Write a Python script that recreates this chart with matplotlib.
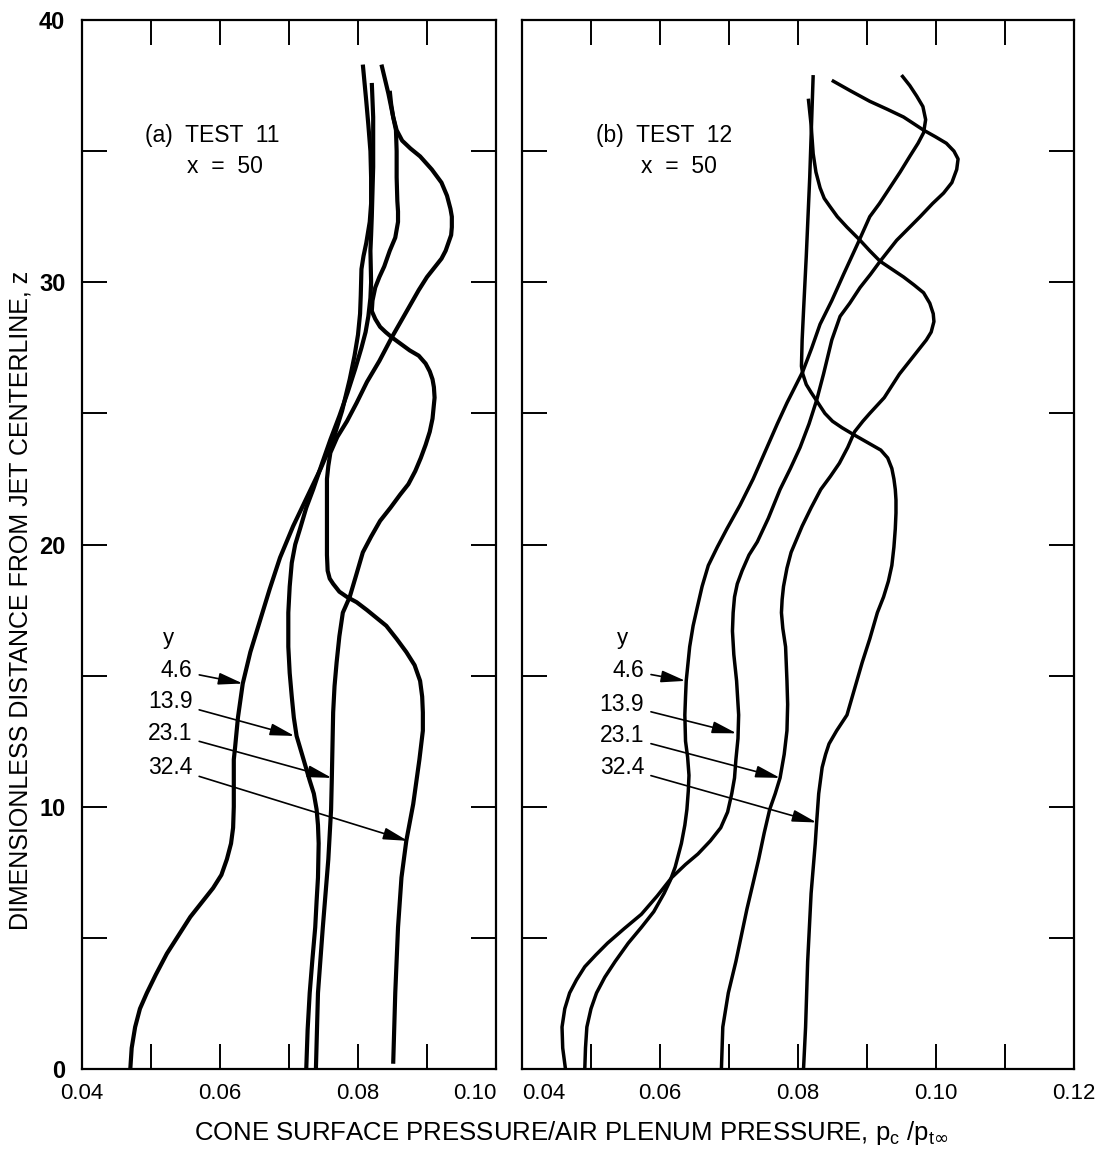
import matplotlib
matplotlib.use("Agg")
import matplotlib.pyplot as plt
from matplotlib.ticker import MultipleLocator, FixedLocator

plt.rcParams['font.family'] = ['Liberation Sans', 'DejaVu Sans']

# ---- (a) TEST 11, x = 50 : cone pressure p_c/p_t vs z, one curve per y ----
a46_p = [0.0470, 0.0472, 0.0477, 0.0484, 0.0494, 0.0507, 0.0523, 0.0540, 0.0557, 0.0575,
         0.0590, 0.0602, 0.0610, 0.0616, 0.0619, 0.0620, 0.0620, 0.0620, 0.0622, 0.0626,
         0.0633, 0.0644, 0.0658, 0.0672, 0.0687, 0.0706, 0.0726, 0.0746, 0.0764, 0.0777,
         0.0788, 0.0795, 0.0800, 0.0803, 0.0804, 0.0805, 0.0808, 0.0812, 0.0817, 0.0819,
         0.0819, 0.0818, 0.0815, 0.0812, 0.0807]
a46_z = [0.0, 0.8, 1.6, 2.3, 2.9, 3.6, 4.4, 5.1, 5.8, 6.4,
         6.9, 7.4, 8.0, 8.6, 9.2, 10.0, 11.0, 11.8, 12.3, 13.4,
         14.7, 15.9, 17.1, 18.3, 19.5, 20.7, 21.8, 22.9, 24.0, 25.1,
         26.3, 27.2, 28.0, 28.8, 29.5, 30.5, 31.0, 31.5, 32.3, 33.0,
         34.0, 35.0, 36.0, 36.9, 38.3]

a139_p = [0.0725, 0.0727, 0.0730, 0.0734, 0.0738, 0.0740, 0.0742, 0.0743, 0.0742, 0.0740,
          0.0736, 0.0730, 0.0720, 0.0711, 0.0707, 0.0704, 0.0701, 0.0699, 0.0699, 0.0701,
          0.0704, 0.0709, 0.0716, 0.0725, 0.0735, 0.0748, 0.0760, 0.0773, 0.0785, 0.0796,
          0.0805, 0.0811, 0.0815, 0.0818, 0.0819, 0.0818, 0.0819, 0.0820, 0.0822, 0.0822,
          0.0820]
a139_z = [0.0, 1.5, 2.9, 4.2, 5.4, 6.4, 7.3, 8.6, 9.3, 9.9,
          10.5, 11.0, 11.9, 12.7, 13.4, 14.2, 15.1, 16.1, 17.4, 18.4,
          19.3, 20.0, 20.6, 21.4, 22.1, 23.1, 24.0, 24.9, 25.8, 26.7,
          27.5, 28.1, 28.7, 29.4, 30.0, 31.2, 31.8, 32.5, 34.4, 36.3,
          37.6]

a231_p = [0.0739, 0.0742, 0.0749, 0.0757, 0.0761, 0.0762, 0.0763, 0.0764, 0.0766, 0.0769,
          0.0773, 0.0778, 0.0788, 0.0797, 0.0807, 0.0819, 0.0832, 0.0847, 0.0861, 0.0873,
          0.0883, 0.0891, 0.0898, 0.0904, 0.0908, 0.0911, 0.0910, 0.0908, 0.0904, 0.0898,
          0.0888, 0.0875, 0.0862, 0.0849, 0.0840, 0.0832, 0.0825, 0.0820, 0.0821, 0.0825,
          0.0831, 0.0838, 0.0846, 0.0854, 0.0858, 0.0858, 0.0857, 0.0856, 0.0856, 0.0855,
          0.0851, 0.0844, 0.0834]
a231_z = [0.0, 2.9, 5.4, 8.0, 9.9, 11.0, 12.3, 13.6, 14.6, 15.5,
          16.5, 17.4, 18.0, 18.8, 19.7, 20.3, 20.9, 21.4, 21.9, 22.3,
          22.8, 23.3, 23.8, 24.3, 24.8, 25.6, 26.0, 26.3, 26.6, 26.9,
          27.2, 27.4, 27.65, 27.9, 28.1, 28.3, 28.6, 28.9, 29.3, 29.8,
          30.2, 30.6, 31.2, 31.7, 32.3, 32.7, 33.1, 34.0, 35.0, 35.8,
          36.3, 37.2, 38.3]

a324_p = [0.0851, 0.0854, 0.0858, 0.0863, 0.0870, 0.0880, 0.0889, 0.0894, 0.0894, 0.0893,
          0.0890, 0.0882, 0.0870, 0.0856, 0.0841, 0.0827, 0.0813, 0.0798, 0.0784, 0.0773,
          0.0764, 0.0759, 0.0756, 0.0755, 0.0755, 0.0755, 0.0757, 0.0760, 0.0770, 0.0784,
          0.0798, 0.0813, 0.0831, 0.0849, 0.0862, 0.0875, 0.0888, 0.0900, 0.0912, 0.0921,
          0.0927, 0.0931, 0.0935, 0.0936, 0.0936, 0.0934, 0.0929, 0.0921, 0.0907, 0.0890,
          0.0876, 0.0864, 0.0856, 0.0851, 0.0848, 0.0846]
a324_z = [0.2, 2.9, 5.4, 7.3, 8.7, 10.1, 11.8, 12.9, 13.6, 14.2,
          14.8, 15.4, 15.9, 16.4, 16.9, 17.2, 17.5, 17.8, 18.0, 18.2,
          18.5, 18.7, 19.0, 19.6, 20.6, 22.5, 23.0, 23.5, 24.1, 24.7,
          25.4, 26.2, 27.0, 27.9, 28.5, 29.1, 29.7, 30.2, 30.6, 30.9,
          31.2, 31.5, 31.8, 32.1, 32.5, 32.8, 33.3, 33.8, 34.3, 34.8,
          35.1, 35.4, 35.8, 36.3, 36.8, 37.3]

# ---- (b) TEST 12, x = 50 ----
b46_p = [0.0491, 0.0492, 0.0494, 0.0500, 0.0508, 0.0520, 0.0535, 0.0554, 0.0573, 0.0591,
         0.0606, 0.0615, 0.0622, 0.0631, 0.0636, 0.0639, 0.0641, 0.0642, 0.0640, 0.0637,
         0.0636, 0.0637, 0.0638, 0.0643, 0.0648, 0.0654, 0.0661, 0.0670, 0.0683, 0.0697,
         0.0716, 0.0735, 0.0755, 0.0770, 0.0784, 0.0807, 0.0820, 0.0832, 0.0849, 0.0866,
         0.0887, 0.0904, 0.0918, 0.0933, 0.0948, 0.0962, 0.0974, 0.0982, 0.0985, 0.0981,
         0.0972, 0.0962, 0.0950]
b46_z = [0.0, 0.8, 1.6, 2.3, 2.9, 3.5, 4.1, 4.8, 5.4, 6.0,
         6.7, 7.2, 7.7, 8.6, 9.3, 9.9, 10.6, 11.2, 11.9, 12.5,
         13.5, 14.2, 14.8, 16.1, 16.9, 17.6, 18.4, 19.2, 19.9, 20.6,
         21.5, 22.5, 23.7, 24.6, 25.4, 26.6, 27.5, 28.4, 29.3, 30.3,
         31.5, 32.5, 33.0, 33.6, 34.2, 34.8, 35.3, 35.7, 36.2, 36.7,
         37.1, 37.5, 37.9]

b139_p = [0.0463, 0.0459, 0.0458, 0.0462, 0.0469, 0.0479, 0.0491, 0.0507, 0.0524, 0.0548,
          0.0573, 0.0596, 0.0617, 0.0637, 0.0655, 0.0673, 0.0688, 0.0698, 0.0704, 0.0708,
          0.0710, 0.0713, 0.0714, 0.0711, 0.0707, 0.0705, 0.0706, 0.0708, 0.0712, 0.0719,
          0.0729, 0.0741, 0.0757, 0.0774, 0.0789, 0.0803, 0.0816, 0.0827, 0.0837, 0.0849,
          0.0861, 0.0875, 0.0890, 0.0905, 0.0919, 0.0943, 0.0960, 0.0977, 0.0995, 0.1011,
          0.1023, 0.1030, 0.1032, 0.1026, 0.1015, 0.0999, 0.0982, 0.0953, 0.0929, 0.0904,
          0.0876, 0.0849]
b139_z = [0.0, 0.8, 1.6, 2.3, 2.9, 3.4, 3.9, 4.35, 4.8, 5.35,
          5.9, 6.6, 7.3, 7.8, 8.2, 8.7, 9.2, 9.8, 10.5, 11.1,
          11.8, 12.6, 13.5, 14.8, 15.8, 16.7, 17.4, 18.0, 18.5, 19.0,
          19.6, 20.1, 21.0, 22.1, 22.9, 23.7, 24.6, 25.5, 26.5, 27.8,
          28.7, 29.2, 29.8, 30.3, 30.8, 31.6, 32.05, 32.5, 33.0, 33.4,
          33.8, 34.3, 34.7, 35.0, 35.3, 35.55, 35.8, 36.3, 36.6, 36.9,
          37.3, 37.7]

b231_p = [0.0689, 0.0691, 0.0699, 0.0710, 0.0718, 0.0726, 0.0735, 0.0743, 0.0751, 0.0759,
          0.0767, 0.0774, 0.0780, 0.0784, 0.0785, 0.0784, 0.0782, 0.0778, 0.0776, 0.0777,
          0.0779, 0.0784, 0.0790, 0.0806, 0.0819, 0.0833, 0.0847, 0.0860, 0.0872, 0.0882,
          0.0894, 0.0904, 0.0925, 0.0947, 0.0962, 0.0974, 0.0986, 0.0993, 0.0997, 0.0996,
          0.0991, 0.0982, 0.0968, 0.0953, 0.0936, 0.0919, 0.0904, 0.0890, 0.0871, 0.0857,
          0.0846, 0.0838, 0.0832, 0.0826, 0.0822, 0.0819, 0.0815]
b231_z = [0.0, 1.6, 2.9, 4.1, 5.1, 6.1, 7.1, 8.0, 9.0, 9.9,
          10.5, 11.1, 12.0, 12.9, 13.9, 14.8, 16.1, 16.8, 17.4, 17.9,
          18.4, 19.1, 19.7, 20.7, 21.4, 22.1, 22.6, 23.1, 23.7, 24.3,
          24.7, 25.0, 25.6, 26.5, 27.0, 27.4, 27.8, 28.1, 28.5, 28.8,
          29.2, 29.6, 29.9, 30.2, 30.5, 30.8, 31.2, 31.6, 32.1, 32.5,
          32.9, 33.2, 33.6, 34.2, 34.9, 36.0, 37.0]

b324_p = [0.0808, 0.0811, 0.0814, 0.0819, 0.0825, 0.0827, 0.0830, 0.0835, 0.0840, 0.0845,
          0.0856, 0.0871, 0.0882, 0.0893, 0.0904, 0.0915, 0.0924, 0.0931, 0.0936, 0.0939,
          0.0941, 0.0942, 0.0942, 0.0941, 0.0939, 0.0936, 0.0930, 0.0920, 0.0900, 0.0880,
          0.0864, 0.0850, 0.0839, 0.0829, 0.0819, 0.0812, 0.0807, 0.0805, 0.0806, 0.0808,
          0.0812, 0.0817, 0.0822]
b324_z = [0.0, 1.6, 4.1, 6.7, 8.6, 9.4, 10.5, 11.5, 12.0, 12.4,
          12.9, 13.5, 14.5, 15.5, 16.4, 17.4, 18.0, 18.6, 19.2, 19.9,
          20.6, 21.2, 21.7, 22.1, 22.5, 22.9, 23.3, 23.6, 23.9, 24.2,
          24.45, 24.7, 25.0, 25.4, 25.8, 26.1, 26.5, 26.8, 27.8, 28.9,
          31.0, 34.0, 37.9]

y_labels = ['4.6', '13.9', '23.1', '32.4']
# label anchor z and arrow tip (p, z) for each panel
a_label_z = [15.2, 14.0, 12.8, 11.5]
a_tips = [(0.0633, 14.7), (0.0708, 12.7), (0.0762, 11.1), (0.0872, 8.7)]
b_label_z = [15.2, 13.9, 12.7, 11.5]
b_tips = [(0.0637, 14.8), (0.0711, 12.8), (0.0774, 11.1), (0.0827, 9.4)]

a_xticks = [0.04, 0.06, 0.08, 0.10]
b_xticks = [0.04, 0.06, 0.08, 0.10, 0.12]

W, H = 1095, 1154
fig = plt.figure(figsize=(W / 100, H / 100), dpi=100)
ax1 = fig.add_axes([82 / W, 1 - 1069 / H, (496 - 82) / W, (1069 - 20) / H])
ax2 = fig.add_axes([522 / W, 1 - 1069 / H, (1074 - 522) / W, (1069 - 20) / H])


def style_axes(ax, xmax, xticks, left_labels):
    ax.set_xlim(0.04, xmax)
    ax.set_ylim(0, 40)
    for s in ax.spines.values():
        s.set_linewidth(1.6)
    ax.xaxis.set_major_locator(FixedLocator(xticks))
    ax.xaxis.set_minor_locator(MultipleLocator(0.01))
    ax.set_xticklabels(['%.2f' % v for v in xticks])
    ax.yaxis.set_major_locator(MultipleLocator(10))
    ax.yaxis.set_minor_locator(MultipleLocator(5))
    ax.tick_params(which='both', direction='in', top=True, right=True,
                   length=18, width=1.4)
    ax.tick_params(axis='x', which='major', labelsize=16, pad=10)
    ax.tick_params(axis='y', which='major', labelsize=17, pad=12,
                   labelleft=left_labels)
    if left_labels:
        for t in ax.get_yticklabels():
            t.set_fontweight('bold')


style_axes(ax1, 0.10, a_xticks, True)
style_axes(ax2, 0.12, b_xticks, False)
# keep the meeting tick labels of the two panels apart
ax1.get_xticklabels()[-1].set_horizontalalignment('right')
ax2.get_xticklabels()[0].set_horizontalalignment('left')

for p, z in [(a46_p, a46_z), (a139_p, a139_z), (a231_p, a231_z), (a324_p, a324_z)]:
    ax1.plot(p, z, color='black', lw=3.0, solid_capstyle='butt', solid_joinstyle='round')
for p, z in [(b46_p, b46_z), (b139_p, b139_z), (b231_p, b231_z), (b324_p, b324_z)]:
    ax2.plot(p, z, color='black', lw=2.5, solid_capstyle='butt', solid_joinstyle='round')

arrow = dict(arrowstyle='-|>,head_length=0.9,head_width=0.22', color='black',
             lw=1.2, shrinkA=3, shrinkB=0)

# panel (a) labels
ax1.text(0.0491, 35.6, '(a)  TEST  11', fontsize=16.5, va='center')
ax1.text(0.0552, 34.4, 'x  =  50', fontsize=16.5, va='center')
ax1.text(0.0517, 16.4, 'y', fontsize=16, va='center')
for lab, lz, tip in zip(y_labels, a_label_z, a_tips):
    ax1.annotate(lab, xy=tip, xytext=(0.0560, lz), fontsize=16.5,
                 ha='right', va='center', arrowprops=arrow)

# panel (b) labels
ax2.text(0.0507, 35.6, '(b)  TEST  12', fontsize=16.5, va='center')
ax2.text(0.0572, 34.4, 'x  =  50', fontsize=16.5, va='center')
ax2.text(0.0537, 16.4, 'y', fontsize=16, va='center')
for lab, lz, tip in zip(y_labels, b_label_z, b_tips):
    ax2.annotate(lab, xy=tip, xytext=(0.0577, lz), fontsize=16.5,
                 ha='right', va='center', arrowprops=arrow)

fig.text(571 / W, 1 - 1133 / H,
         r'CONE SURFACE PRESSURE/AIR PLENUM PRESSURE, p$_\mathregular{c}$ /p$_{\mathregular{t}\infty}$',
         fontsize=18.5, ha='center', va='center')
fig.text(21 / W, 1 - 600 / H, 'DIMENSIONLESS DISTANCE FROM JET CENTERLINE, z',
         fontsize=18, rotation=90, ha='center', va='center')

fig.savefig('out.png', dpi=100)
